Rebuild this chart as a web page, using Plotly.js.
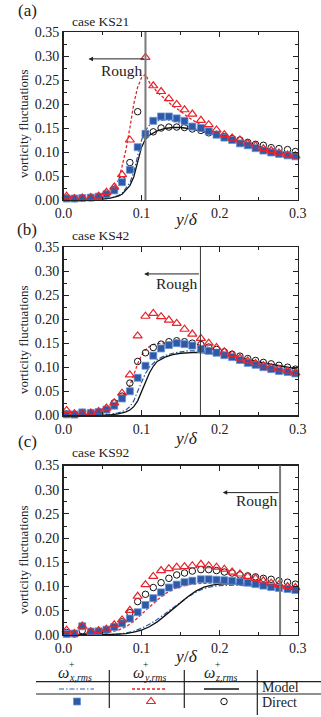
<!DOCTYPE html>
<html><head><meta charset="utf-8">
<script src="https://cdn.plot.ly/plotly-3.0.1.min.js"></script>
<style>html,body{margin:0;padding:0;background:#fff;overflow:hidden}</style>
</head><body><div id="chart" style="width:321px;height:717px"></div>
<script>
// ---------------- DATA ----------------
const panelLabels = ["(a)", "(b)", "(c)"];
const caseNames = ["case KS21", "case KS42", "case KS92"];
const roughEdge = [0.105, 0.1754, 0.2774];      // y/delta of roughness edge
const roughArrowTip = [0.032, 0.1033, 0.204];   // arrow head positions
const xTicks = [0.0, 0.1, 0.2, 0.3];
const yTicks = [0.00, 0.05, 0.10, 0.15, 0.20, 0.25, 0.30, 0.35];

// Direct (DNS) sample locations
const yDeltaDirect = [0.004,0.014,0.024,0.035,0.045,0.055,0.065,0.075,0.085,0.095,
  0.105,0.115,0.125,0.135,0.145,0.155,0.165,0.176,0.186,0.196,
  0.206,0.216,0.226,0.236,0.246,0.256,0.266,0.276,0.287,0.297];

// KS21 direct
const ks21_wx = [0.003,0.003,0.004,0.005,0.007,0.012,0.020,0.037,0.063,0.110,
  0.138,0.165,0.174,0.174,0.170,0.165,0.153,0.150,0.143,0.136,
  0.130,0.125,0.118,0.114,0.108,0.103,0.099,0.096,0.093,0.091];
const ks21_wy = [0.008,0.003,0.004,0.005,0.008,0.016,0.027,0.053,0.125,null,
  0.297,0.238,0.226,0.211,0.199,0.188,0.179,0.166,0.157,0.146,
  0.136,0.129,0.125,0.118,0.113,0.107,0.103,0.098,0.094,0.092];
const ks21_wz = [0.004,0.003,0.004,0.005,0.007,0.012,0.022,0.042,0.078,0.184,
  0.135,0.142,0.150,0.152,0.152,0.151,0.148,0.145,0.140,0.137,
  0.132,0.128,0.125,0.120,0.116,0.114,0.109,0.107,0.105,0.101];

// KS42 direct
const ks42_wx = [0.002,0.0015,0.006,0.005,0.007,0.012,0.020,0.035,0.050,0.078,
  0.103,0.124,0.139,0.146,0.150,0.148,0.145,0.138,0.134,0.130,
  0.125,0.121,0.115,0.109,0.105,0.100,0.096,0.092,0.090,0.087];
const ks42_wy = [0.010,0.0035,0.004,0.005,0.008,0.015,0.026,0.046,0.084,0.165,
  0.206,0.212,0.205,0.198,0.191,0.179,0.169,0.160,0.150,0.141,
  0.132,0.126,0.119,0.113,0.108,0.103,0.099,0.096,0.092,0.088];
const ks42_wz = [0.003,0.002,0.005,0.005,0.007,0.012,0.026,0.040,0.067,0.112,
  0.130,0.141,0.148,0.153,0.155,0.153,0.150,0.147,0.142,0.137,
  0.132,0.127,0.123,0.118,0.114,0.110,0.107,0.104,0.100,0.096];

// KS92 direct
const ks92_wx = [0.002,0.003,0.018,0.007,0.0075,0.011,0.0165,0.024,0.034,0.047,
  0.062,0.076,0.088,0.098,0.104,0.109,0.112,0.115,0.115,0.114,
  0.113,0.112,0.110,0.108,0.105,0.102,0.099,0.097,0.095,0.093];
const ks92_wy = [0.010,0.003,0.0185,0.007,0.009,0.012,0.021,0.031,0.051,0.080,
  0.104,0.121,0.133,0.137,0.140,0.141,0.143,0.146,0.143,0.140,
  0.136,0.130,0.126,0.121,0.117,0.112,0.107,0.104,0.100,0.098];
const ks92_wz = [0.005,0.002,0.009,0.007,0.008,0.010,0.017,0.027,0.046,0.069,
  0.084,0.098,0.108,0.117,0.124,0.128,0.132,0.135,0.135,0.133,
  0.130,0.128,0.124,0.122,0.120,0.117,0.115,0.112,0.109,0.105];

// Model curves
const yDeltaModelA = [0,0.02,0.04,0.05,0.06,0.07,0.075,0.08,0.085,0.09,0.095,0.1,0.105,0.11,0.12,0.13,0.14,0.15,0.16,0.18,0.2,0.22,0.24,0.26,0.28,0.3];
const ks21_wx_model = [0,0.0005,0.001,0.002,0.004,0.009,0.014,0.024,0.036,0.058,0.09,0.125,0.145,0.156,0.165,0.167,0.165,0.16,0.154,0.143,0.133,0.123,0.113,0.104,0.097,0.09];
const ks21_wy_model = [0.008,0.005,0.006,0.01,0.017,0.04,0.07,0.105,0.15,0.2,0.235,0.255,0.262,0.245,0.225,0.21,0.196,0.185,0.172,0.152,0.135,0.124,0.114,0.106,0.098,0.09];
const ks21_wz_model = [0,0.0005,0.001,0.002,0.004,0.008,0.012,0.02,0.03,0.048,0.078,0.11,0.127,0.135,0.144,0.149,0.151,0.151,0.149,0.142,0.133,0.124,0.115,0.107,0.1,0.094];

const yDeltaModelB = [0,0.04,0.06,0.07,0.08,0.085,0.09,0.095,0.1,0.105,0.11,0.115,0.12,0.13,0.14,0.15,0.16,0.17,0.18,0.2,0.22,0.24,0.26,0.28,0.3];
const ks42_wx_model = [0,0.0005,0.002,0.005,0.011,0.018,0.03,0.05,0.07,0.087,0.1,0.109,0.116,0.124,0.129,0.132,0.134,0.134,0.133,0.127,0.119,0.111,0.104,0.097,0.09];
const ks42_wy_model = [0.008,0.008,0.016,0.03,0.046,0.062,0.085,0.107,0.125,0.136,0.143,0.147,0.149,0.151,0.152,0.152,0.151,0.148,0.144,0.134,0.124,0.114,0.104,0.095,0.087];
const ks42_wz_model = [0,0,0.001,0.003,0.007,0.011,0.018,0.03,0.05,0.07,0.088,0.102,0.112,0.121,0.126,0.129,0.13,0.131,0.13,0.127,0.121,0.114,0.108,0.102,0.096];

const yDeltaModelC = [0,0.04,0.06,0.07,0.08,0.09,0.1,0.11,0.12,0.13,0.14,0.15,0.16,0.17,0.18,0.19,0.2,0.22,0.24,0.26,0.28,0.3];
const ks92_wx_model = [0,0,0.001,0.002,0.004,0.008,0.014,0.022,0.032,0.044,0.056,0.068,0.079,0.089,0.096,0.1,0.102,0.103,0.102,0.1,0.097,0.094];
const ks92_wy_model = [0.002,0.003,0.006,0.01,0.017,0.028,0.043,0.058,0.072,0.085,0.094,0.1,0.104,0.106,0.107,0.108,0.108,0.107,0.105,0.102,0.099,0.096];
const ks92_wz_model = [0,0,0.001,0.002,0.003,0.006,0.01,0.017,0.027,0.04,0.053,0.067,0.08,0.091,0.099,0.103,0.105,0.106,0.105,0.103,0.101,0.099];

// ---------------- STYLE / LAYOUT ----------------
const W = 321, H = 717;
const px = x => x / W, py = y => 1 - y / H;
const FONT = 'Liberation Serif, Times New Roman, serif';
const INK = '#222';
const BLUE = '#2c5aa8', RED = '#e8232b', BLACK = '#111';

const panelBox = [ {top:32, bottom:200}, {top:247, bottom:415.3}, {top:465.5, bottom:635} ];
const roughStyle = [ {color:'#7a7a7a', width:2}, {color:'#333', width:1}, {color:'#7a7a7a', width:2} ];
const roughText = [ {x:0.0755, y:0.270}, {x:0.145, y:0.274}, {x:0.2475, y:0.277} ];
const labelY = [11, 229, 441];
const caseY = [21, 236, 452];
const xTitleY = [219, 438, 656];
const yTitleY = [124, 340, 560];

const data = [];
const direct = [
  [ks21_wx, ks21_wy, ks21_wz], [ks42_wx, ks42_wy, ks42_wz], [ks92_wx, ks92_wy, ks92_wz]
];
const model = [
  [yDeltaModelA, ks21_wx_model, ks21_wy_model, ks21_wz_model],
  [yDeltaModelB, ks42_wx_model, ks42_wy_model, ks42_wz_model],
  [yDeltaModelC, ks92_wx_model, ks92_wy_model, ks92_wz_model]
];
const blueLine = {color:BLUE, width:1.2, dash:'5px,2px,1.5px,2px'};
const redLine = {color:RED, width:1.3, dash:'3px,2px'};
const blackLine = {color:BLACK, width:1.3};
const sqMarker = {symbol:'square', size:7, color:BLUE, line:{color:'#6d94d4', width:0.8}};
const triMarker = {symbol:'triangle-up-open', size:8, color:RED, line:{color:RED, width:1.2}};
const circMarker = {symbol:'circle-open', size:6.5, color:BLACK, line:{color:BLACK, width:1}};

model.forEach((m, i) => {
  const xa = i === 0 ? 'x' : 'x' + (i + 1), ya = i === 0 ? 'y' : 'y' + (i + 1);
  data.push({x:m[0], y:m[1], mode:'lines', line:blueLine, xaxis:xa, yaxis:ya, hoverinfo:'skip'});
  data.push({x:m[0], y:m[2], mode:'lines', line:redLine, xaxis:xa, yaxis:ya, hoverinfo:'skip'});
  data.push({x:m[0], y:m[3], mode:'lines', line:blackLine, xaxis:xa, yaxis:ya, hoverinfo:'skip'});
  const d = direct[i];
  data.push({x:yDeltaDirect, y:d[2], mode:'markers', marker:circMarker, xaxis:xa, yaxis:ya, cliponaxis:false});
  data.push({x:yDeltaDirect, y:d[0], mode:'markers', marker:sqMarker, xaxis:xa, yaxis:ya, cliponaxis:false});
  data.push({x:yDeltaDirect, y:d[1], mode:'markers', marker:triMarker, xaxis:xa, yaxis:ya, cliponaxis:false});
});

// Legend table samples (on an invisible pixel axis)
const legCols = {wx:[59,94,77], wy:[132,167,151], wz:[204,239,224]};
const modelRowY = 689, directRowY = 701.5;
data.push({x:[legCols.wx[0],legCols.wx[1]], y:[modelRowY,modelRowY], mode:'lines', line:blueLine, xaxis:'x4', yaxis:'y4'});
data.push({x:[legCols.wy[0],legCols.wy[1]], y:[modelRowY,modelRowY], mode:'lines', line:redLine, xaxis:'x4', yaxis:'y4'});
data.push({x:[legCols.wz[0],legCols.wz[1]], y:[modelRowY,modelRowY], mode:'lines', line:blackLine, xaxis:'x4', yaxis:'y4'});
data.push({x:[legCols.wx[2]], y:[directRowY], mode:'markers', marker:sqMarker, xaxis:'x4', yaxis:'y4', cliponaxis:false});
data.push({x:[legCols.wy[2]], y:[directRowY], mode:'markers', marker:triMarker, xaxis:'x4', yaxis:'y4', cliponaxis:false});
data.push({x:[legCols.wz[2]], y:[directRowY], mode:'markers', marker:circMarker, xaxis:'x4', yaxis:'y4', cliponaxis:false});

const layout = {
  width:W, height:H, autosize:false, showlegend:false,
  margin:{l:0, r:0, t:0, b:0, pad:0},
  paper_bgcolor:'#fff', plot_bgcolor:'rgba(0,0,0,0)',
  font:{family:FONT, color:INK, size:13},
  shapes:[], annotations:[]
};

function note(x, y, text, size, extra) {
  return Object.assign({xref:'paper', yref:'paper', x:px(x), y:py(y), text:text, showarrow:false,
    xanchor:'center', yanchor:'middle', borderpad:0, font:{family:FONT, size:size, color:INK}}, extra || {});
}

panelBox.forEach((b, i) => {
  const sfx = i === 0 ? '' : String(i + 1);
  const ya = 'y' + sfx;
  layout['xaxis' + sfx] = {
    domain:[px(63.5), px(297.7)], range:[0, 0.3], anchor:ya,
    tickvals:xTicks, ticktext:xTicks.map(v => v.toFixed(1)),
    ticks:'inside', ticklen:5, tickwidth:1, tickcolor:INK,
    minor:{dtick:0.05, tick0:0, ticks:'inside', ticklen:3, tickcolor:INK, showgrid:false},
    showline:true, linecolor:INK, linewidth:1.4, mirror:'ticks',
    showgrid:false, zeroline:false, fixedrange:true,
    tickfont:{family:FONT, size:14, color:INK}
  };
  layout['yaxis' + sfx] = {
    domain:[py(b.bottom), py(b.top)], range:[0, 0.35], anchor:'x' + sfx,
    tickvals:yTicks, ticktext:yTicks.map(v => v.toFixed(2)),
    ticks:'inside', ticklen:5, tickwidth:1, tickcolor:INK,
    minor:{dtick:0.025, tick0:0, ticks:'inside', ticklen:3, tickcolor:INK, showgrid:false},
    showline:true, linecolor:INK, linewidth:1.4, mirror:'ticks',
    showgrid:false, zeroline:false, fixedrange:true,
    tickfont:{family:FONT, size:14, color:INK}
  };
  const xr = 'x' + sfx;
  layout.shapes.push({type:'line', xref:xr, yref:ya + ' domain', x0:roughEdge[i], x1:roughEdge[i], y0:0, y1:1,
    line:roughStyle[i]});
  layout.annotations.push({xref:xr, yref:ya, x:roughArrowTip[i], y:0.294, ax:roughEdge[i], ay:0.294,
    axref:xr, ayref:ya, text:'', showarrow:true, arrowhead:2, arrowsize:0.9, arrowwidth:1, arrowcolor:INK, standoff:0, startstandoff:0});
  layout.annotations.push({xref:xr, yref:ya, x:roughText[i].x, y:roughText[i].y, text:'Rough', showarrow:false,
    xanchor:'center', yanchor:'middle', font:{family:FONT, size:15.5, color:INK}});
  layout.annotations.push(note(27, labelY[i], panelLabels[i], 17));
  layout.annotations.push(note(71, caseY[i], caseNames[i], 13.5, {xanchor:'left'}));
  layout.annotations.push(note(186, xTitleY[i], '<i>y</i>/<i>δ</i>', 17.5));
  layout.annotations.push(note(23, yTitleY[i], 'vorticity fluctuations', 13, {textangle:-90}));
});

layout.xaxis4 = {domain:[0,1], range:[0, W], visible:false, fixedrange:true, anchor:'y4'};
layout.yaxis4 = {domain:[0,1], range:[H, 0], visible:false, fixedrange:true, anchor:'x4'};

// Legend table rules
[681.7, 694].forEach(y => layout.shapes.push({type:'line', xref:'paper', yref:'paper', x0:px(36), x1:px(321), y0:py(y), y1:py(y), line:{color:INK, width:1.2}}));
[[109.3,708],[184.3,708],[257.3,715]].forEach(v => layout.shapes.push({type:'line', xref:'paper', yref:'paper', x0:px(v[0]), x1:px(v[0]), y0:py(670), y1:py(v[1]), line:{color:INK, width:1.2}}));

// Legend headers
const heads = [ {x:57, sub:'x,rms'}, {x:131.5, sub:'y,rms'}, {x:203, sub:'z,rms'} ];
heads.forEach(h => {
  layout.annotations.push(note(h.x, 672, '<i>ω</i>', 16, {xanchor:'left'}));
  layout.annotations.push(note(h.x + 10.5, 665, '+', 9.5, {xanchor:'left'}));
  layout.annotations.push(note(h.x + 11, 677.5, '<i>' + h.sub + '</i>', 10, {xanchor:'left'}));
});
layout.annotations.push(note(261, 687.5, 'Model', 14, {xanchor:'left'}));
layout.annotations.push(note(261, 702.5, 'Direct', 14, {xanchor:'left'}));

Plotly.newPlot('chart', data, layout, {staticPlot:true, displayModeBar:false});
</script>
</body></html>
